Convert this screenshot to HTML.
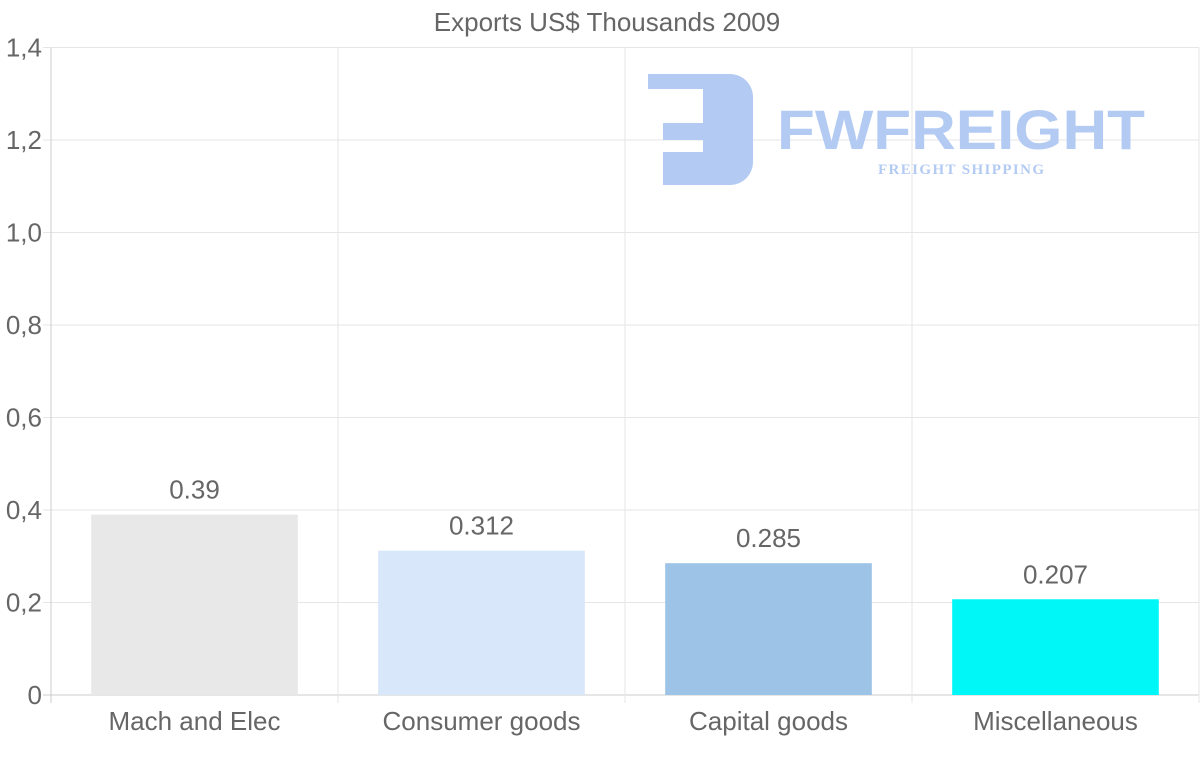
<!DOCTYPE html>
<html><head><meta charset="utf-8"><style>
html,body{margin:0;padding:0;background:#fff;}
svg{display:block;font-family:"Liberation Sans",Arial,sans-serif;}
</style></head><body>
<svg id="chart" width="1200" height="763" viewBox="0 0 1200 763" xmlns="http://www.w3.org/2000/svg">
<text x="607" y="31" text-anchor="middle" font-size="26" fill="#666">Exports US$ Thousands 2009</text>
<g id="grid"></g>
<g id="logo" fill="#b3cbf3">
<path d="M648 74 H730 a23 23 0 0 1 23 23 V162 a23 23 0 0 1 -23 23 H663 V152 H703 V140 H663 V123 H703 V89 H648 Z"/>
<text x="777" y="149" font-size="56" font-weight="bold" textLength="368" lengthAdjust="spacingAndGlyphs">FWFREIGHT</text>
<text x="878" y="174" font-size="15" font-weight="bold" font-family="Liberation Serif,serif" textLength="166">FREIGHT SHIPPING</text>
</g>
<g id="bars"></g>
<g id="axes"></g>
</svg>
<script>
const categories = ["Mach and Elec","Consumer goods","Capital goods","Miscellaneous"];
const values = [0.39,0.312,0.285,0.207];
const valueLabels = ["0.39","0.312","0.285","0.207"];
const yTicks = [0,0.2,0.4,0.6,0.8,1.0,1.2,1.4];
const yTickLabels = ["0","0,2","0,4","0,6","0,8","1,0","1,2","1,4"];
const colors = ["#e8e8e8","#d8e7f9","#9dc3e6","#00f7f7"];

const NS="http://www.w3.org/2000/svg";
const L=51,R=1199,T=47.5,B=695,yMax=1.4;
const y=v=>B-(v/yMax)*(B-T);
const bw=(R-L)/categories.length;
const x=i=>L+i*bw;
function mk(tag,attrs,parent,text){const e=document.createElementNS(NS,tag);for(const k in attrs)e.setAttribute(k,attrs[k]);if(text!==undefined)e.textContent=text;parent.appendChild(e);return e;}
const grid=document.getElementById('grid'),bars=document.getElementById('bars'),axes=document.getElementById('axes');
yTicks.forEach((t,i)=>{
  const l=mk('line',{x1:L-8,x2:R,y1:y(t),y2:y(t),stroke:t===0?'#ccc':'#e6e6e6','stroke-width':1},grid);
  
  
  const tx=mk('text',{x:42,y:y(t)+9,'text-anchor':'end','font-size':26,fill:'#666'},axes,yTickLabels[i]);
  
  
});
for(let i=0;i<=categories.length;i++){
  const l=mk('line',{x1:x(i),x2:x(i),y1:T,y2:B+8,stroke:i===0?'#ccc':'#e6e6e6','stroke-width':1},grid);
  
  
}
categories.forEach((c,i)=>{
  const w=bw*0.72,bx=x(i)+(bw-w)/2;
  const r=mk('rect',{x:bx,y:y(values[i]),width:w,height:B-y(values[i]),fill:colors[i]},bars);
  
  
  const v=mk('text',{x:x(i)+bw/2,y:y(values[i])-16,'text-anchor':'middle','font-size':26,fill:'#666'},bars,valueLabels[i]);
  
  
  const xl=mk('text',{x:x(i)+bw/2,y:730,'text-anchor':'middle','font-size':26,fill:'#666'},axes,c);
  
  
});
</script>
</body></html>
